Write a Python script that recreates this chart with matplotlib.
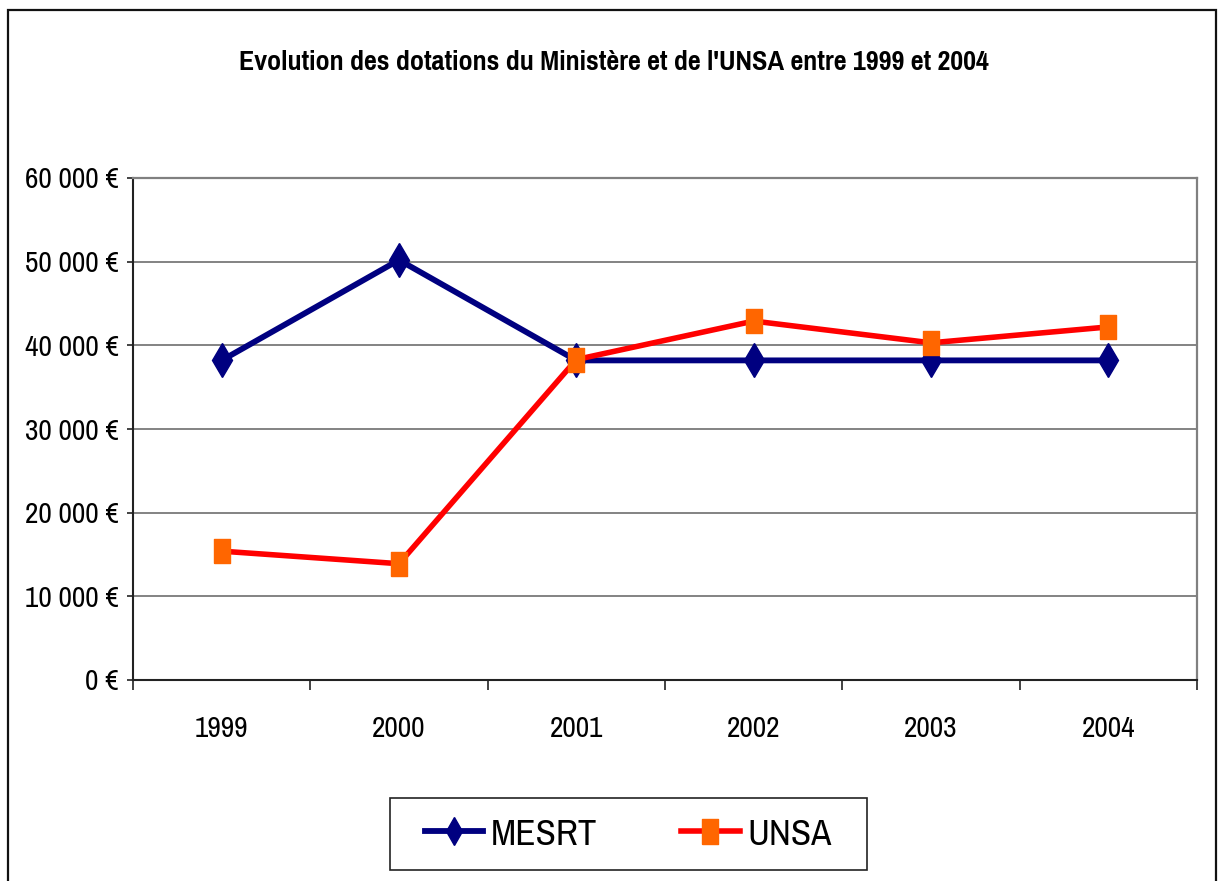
import matplotlib
matplotlib.use("Agg")
import matplotlib.pyplot as plt
from matplotlib.ticker import FuncFormatter, FixedLocator
from matplotlib.patches import Rectangle
from matplotlib.lines import Line2D

years = ["1999", "2000", "2001", "2002", "2003", "2004"]
mesrt = [38200, 50200, 38200, 38200, 38200, 38200]
unsa = [15400, 13900, 38300, 42900, 40300, 42200]

plt.rcParams['font.family'] = ['Pragati Narrow', 'Archivo Narrow', 'Liberation Sans', 'DejaVu Sans']

navy = "#000080"
red = "#FF0000"
orange = "#FF6600"
rect = [(-0.33, -0.5), (0.33, -0.5), (0.33, 0.5), (-0.33, 0.5), (-0.33, -0.5)]

fig = plt.figure(figsize=(12.19, 8.81), dpi=100)
# outer chart border (bottom edge runs off the image)
fig.patches.append(Rectangle((8 / 1219, -0.05), 1208 / 1219, 1.05 - 10 / 881,
                             transform=fig.transFigure, fill=False,
                             edgecolor="#111111", linewidth=1.6))
# legend frame
fig.patches.append(Rectangle((390 / 1219, 11 / 881), 477 / 1219, 72 / 881,
                             transform=fig.transFigure, fill=False,
                             edgecolor="#222222", linewidth=1.2))
ax = fig.add_axes([133 / 1219, 201 / 881, 1064 / 1219, 502 / 881])

x = list(range(len(years)))
ax.plot(x, mesrt, color=navy, linewidth=4.2, marker="d",
        markersize=17.8, markerfacecolor=navy, markeredgecolor=navy,
        label="MESRT", zorder=3)
ax.plot(x, unsa, color=red, linewidth=4.0, marker=rect,
        markersize=17.5, markerfacecolor=orange, markeredgecolor=orange,
        label="UNSA", zorder=4)

ax.set_xlim(-0.5, len(years) - 0.5)
ax.set_ylim(0, 60000)
ax.yaxis.set_major_locator(FixedLocator(range(0, 60001, 10000)))
ax.yaxis.set_major_formatter(FuncFormatter(lambda v, p: f"{int(v):,}".replace(",", " ") + " €"))
ax.grid(axis="y", color="#6e6e6e", linewidth=1.2)
ax.set_axisbelow(True)

ax.set_xticks(x)
ax.set_xticklabels(years)
ax.set_xticks([i - 0.5 for i in range(len(years) + 1)], minor=True)
ax.tick_params(axis="x", which="major", length=0, labelsize=23, pad=26)
ax.tick_params(axis="x", which="minor", length=7, width=1.2, direction="out", color="#222222")
ax.tick_params(axis="y", length=4.5, width=1.2, direction="out", labelsize=23, pad=6, color="#222222")

for s in ["left", "bottom"]:
    ax.spines[s].set_color("#222222")
    ax.spines[s].set_linewidth(1.5)
for s in ["top", "right"]:
    ax.spines[s].set_color("#808080")
    ax.spines[s].set_linewidth(1.6)

fig.text(0.5 * (243 + 985) / 1219, 1 - 62 / 881,
         "Evolution des dotations du Ministère et de l'UNSA entre 1999 et 2004",
         ha="center", va="center", fontsize=22, fontweight="bold")

handles = [
    Line2D([], [], color=navy, linewidth=4.2, marker="d", markersize=14.2,
           markerfacecolor=navy, markeredgecolor=navy),
    Line2D([], [], color=red, linewidth=4.0, marker=rect, markersize=18,
           markerfacecolor=orange, markeredgecolor=orange),
]
leg = ax.legend(handles, ["MESRT", "UNSA"], loc="center",
                bbox_to_anchor=(628 / 1219, 47 / 881),
                bbox_transform=fig.transFigure, ncol=2, fontsize=29,
                frameon=False, handlelength=1.45, columnspacing=2.1,
                handletextpad=0.18, borderpad=0.3, borderaxespad=0)

fig.savefig("out.png", dpi=100)
